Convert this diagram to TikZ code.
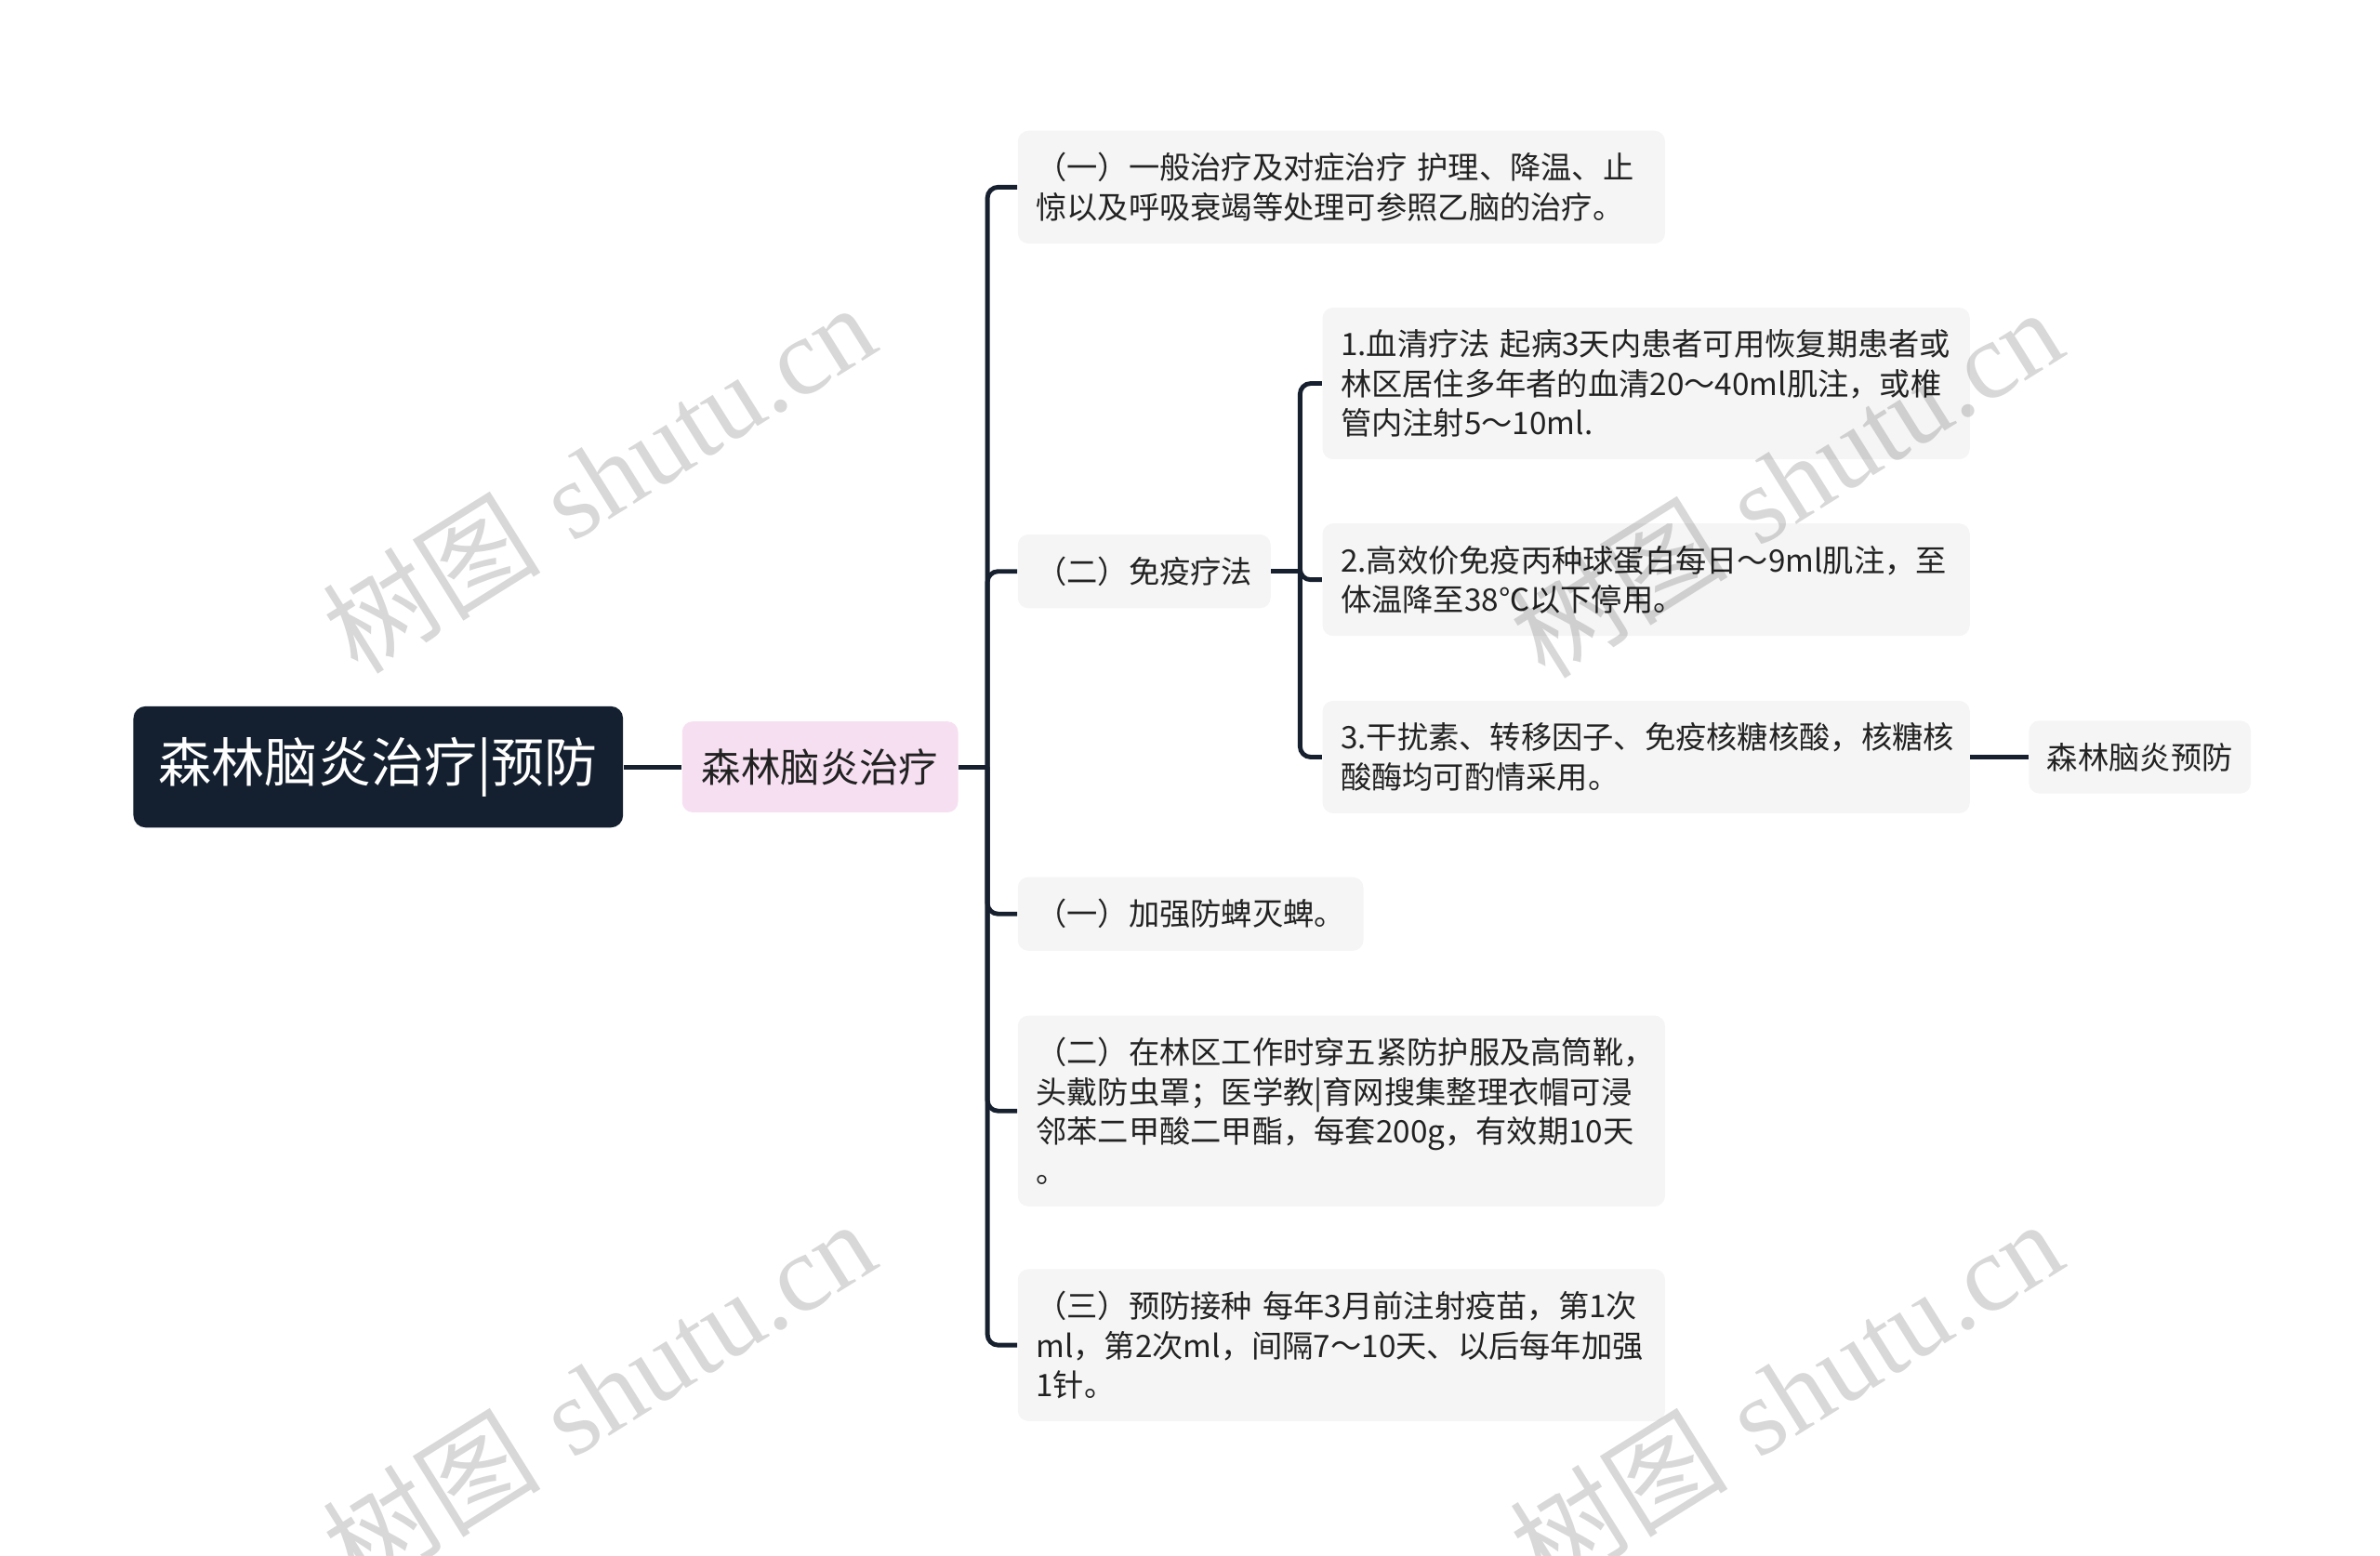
\documentclass[tikz,border=0pt]{standalone}
\usepackage{fontspec}
\usepackage{tikz}

\newfontfamily\cjk{Noto Sans CJK SC}
\newfontfamily\wmserif{Liberation Serif}

\definecolor{rootblue}{HTML}{14202F}
\definecolor{linecol}{HTML}{17202E}
\definecolor{pinkfill}{HTML}{F6DFF1}
\definecolor{leaffill}{HTML}{F5F5F5}
\definecolor{txt}{HTML}{222222}
\definecolor{wmgray}{HTML}{D8D8D8}

\tikzset{
  leaf/.style={rectangle, rounded corners=3.5pt, fill=leaffill, text=txt,
    font=\cjk\fontsize{10.2}{13}\selectfont, inner xsep=6pt, inner ysep=7.3pt,
    anchor=west, align=left},
  wide/.style={leaf, text width=201.5pt},
  link/.style={line width=1.5pt, draw=linecol},
  wmark/.style={text=wmgray, rotate=32, font=\fontsize{36}{36}\selectfont}
}

\begin{document}
\begin{tikzpicture}[x=0.5pt,y=-0.5pt]

\useasboundingbox (0,0) rectangle (1570,1026.6);

% root node
\node[rectangle, rounded corners=4pt, fill=rootblue, text=white, font=\cjk\fontsize{17.5}{17.5}\selectfont,
  minimum width=161.5pt, minimum height=40pt, inner sep=0pt] (root) at (249.5,506) {森林脑炎治疗|预防};

% treatment node
\node[rectangle, rounded corners=3.5pt, fill=pinkfill, text=txt, font=\cjk\fontsize{13}{13}\selectfont,
  minimum width=91pt, minimum height=30pt, inner sep=0pt] (treat) at (541,506) {森林脑炎治疗};

% first level nodes
\node[wide] (general) at (671,123.5) {（一）一般治疗及对症治疗 护理、降温、止\\惊以及呼吸衰竭等处理可参照乙脑的治疗。};
\node[leaf] (immune) at (671,377) {（二）免疫疗法};
\node[leaf] (tick) at (671,603) {（一）加强防蜱灭蜱。};
\node[wide] (clothes) at (671,733) {（二）在林区工作时穿五紧防护服及高筒靴，\\头戴防虫罩；医学教|育网搜集整理衣帽可浸\\邻苯二甲酸二甲酯，每套200g，有效期10天\\。};
\node[wide] (vaccine) at (671,887.5) {（三）预防接种 每年3月前注射疫苗，第1次\\ml，第2次ml，间隔7～10天、以后每年加强\\1针。};

% immune therapy nodes
\node[wide] (serum) at (872,253) {1.血清疗法 起病3天内患者可用恢复期患者或\\林区居住多年者的血清20～40ml肌注，或椎\\管内注射5～10ml.};
\node[wide] (globulin) at (872,382.5) {2.高效价免疫丙种球蛋白每日～9ml肌注，至\\体温降至38℃以下停用。};
\node[wide] (interferon) at (872,499.5) {3.干扰素、转移因子、免疫核糖核酸，核糖核\\酸酶均可酌情采用。};

% prevention node
\node[leaf] (prevent) at (1338,499.5) {森林脑炎预防};

% connectors
\draw[link] (root.east) -- (treat.west);
\draw[link] (treat.east) -- ++(19,0) coordinate (tj);
\foreach \c in {general,immune,tick,clothes,vaccine}
  \draw[link, rounded corners=3.5pt] (tj) |- (\c.west);

\draw[link] (immune.east) -- ++(19,0) coordinate (sj);
\foreach \c in {serum,globulin,interferon}
  \draw[link, rounded corners=3.5pt] (sj) |- (\c.west);

\draw[link] (interferon.east) -- (prevent.west);

% watermarks
\begin{scope}[blend mode=multiply]
\node[wmark] (wm1) at (395,315) {{\cjk 树图} {\wmserif shutu.cn}};
\node[wmark] (wm2) at (1178,318) {{\cjk 树图} {\wmserif shutu.cn}};
\node[wmark] (wm3) at (395,920) {{\cjk 树图} {\wmserif shutu.cn}};
\node[wmark] (wm4) at (1178,920) {{\cjk 树图} {\wmserif shutu.cn}};
\end{scope}

\end{tikzpicture}
\end{document}
